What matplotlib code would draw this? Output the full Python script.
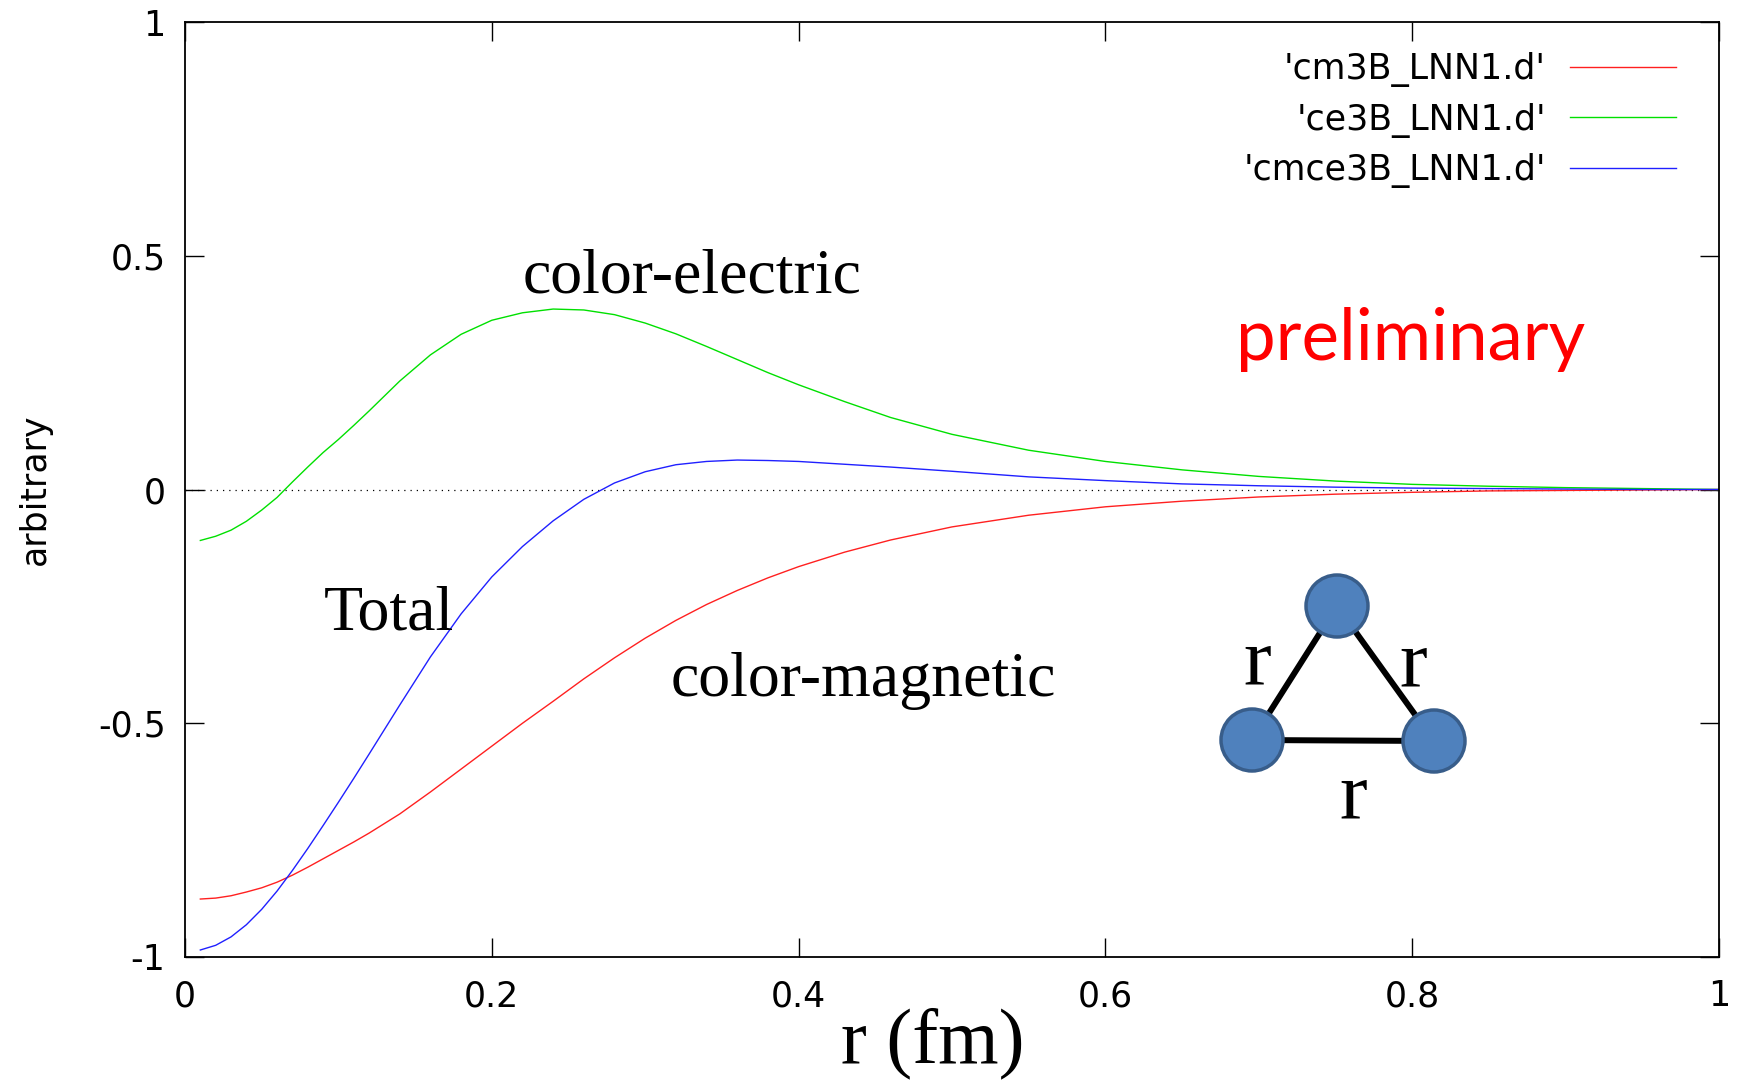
import matplotlib
matplotlib.use("Agg")
import matplotlib.pyplot as plt
from matplotlib.patches import Circle

# r (fm)
r_fm = [0.01, 0.02, 0.03, 0.04, 0.05, 0.06, 0.07, 0.08, 0.09, 0.10, 0.11, 0.12,
        0.14, 0.16, 0.18, 0.20, 0.22, 0.24, 0.26, 0.28, 0.30, 0.32, 0.34, 0.36,
        0.38, 0.40, 0.43, 0.46, 0.50, 0.55, 0.60, 0.65, 0.70, 0.75, 0.80, 0.85,
        0.90, 0.95, 1.00]

# color-magnetic
cm3B = [-0.876, -0.874, -0.869, -0.861, -0.852, -0.840, -0.825, -0.808, -0.790,
        -0.772, -0.754, -0.735, -0.694, -0.647, -0.598, -0.549, -0.500, -0.453,
        -0.405, -0.360, -0.318, -0.280, -0.246, -0.216, -0.189, -0.165, -0.134,
        -0.108, -0.080, -0.055, -0.037, -0.025, -0.016, -0.010, -0.006, -0.003,
        -0.002, -0.001, 0.0]

# color-electric
ce3B = [-0.109, -0.100, -0.087, -0.068, -0.044, -0.017, 0.016, 0.048, 0.079,
        0.107, 0.137, 0.168, 0.232, 0.288, 0.332, 0.362, 0.378, 0.386, 0.384,
        0.374, 0.356, 0.333, 0.306, 0.278, 0.250, 0.224, 0.188, 0.154, 0.118,
        0.084, 0.060, 0.042, 0.028, 0.018, 0.011, 0.007, 0.004, 0.002, 0.0]

# total
cmce3B = [-0.985, -0.975, -0.957, -0.931, -0.898, -0.859, -0.815, -0.768, -0.719,
          -0.669, -0.618, -0.566, -0.461, -0.358, -0.266, -0.187, -0.122, -0.067,
          -0.021, 0.014, 0.038, 0.053, 0.060, 0.063, 0.062, 0.060, 0.054, 0.048,
          0.039, 0.027, 0.019, 0.012, 0.008, 0.005, 0.003, 0.002, 0.001, 0.0, 0.0]

labels = ["'cm3B_LNN1.d'", "'ce3B_LNN1.d'", "'cmce3B_LNN1.d'"]
xticks = [0, 0.2, 0.4, 0.6, 0.8, 1]
xticklabels = ["0", "0.2", "0.4", "0.6", "0.8", "1"]
yticks = [-1, -0.5, 0, 0.5, 1]
yticklabels = ["-1", "-0.5", "0", "0.5", "1"]

W, H = 1748, 1080
fig = plt.figure(figsize=(W / 100, H / 100), dpi=100)
ax = fig.add_axes([185 / W, 1 - 957 / H, 1534 / W, 935 / H])

ax.axhline(0, color="black", lw=0.9, ls=(0, (1, 4)))
ax.plot(r_fm, cm3B, color="#ff2020", lw=1.0, label=labels[0])
ax.plot(r_fm, ce3B, color="#00e000", lw=1.0, label=labels[1])
ax.plot(r_fm, cmce3B, color="#2020ff", lw=1.0, label=labels[2])

ax.set_xlim(0, 1)
ax.set_ylim(-1, 1)
ax.set_xticks(xticks)
ax.set_xticklabels(xticklabels)
ax.set_yticks(yticks)
ax.set_yticklabels(yticklabels)
ax.tick_params(direction="in", length=14, width=1.0, top=True, right=True,
               labelsize=25, pad=14)
ax.tick_params(axis="x", pad=16)
for s in ax.spines.values():
    s.set_linewidth(1.3)

ax.set_ylabel("arbitrary", fontsize=25)
ax.yaxis.label.set_va("center")
ax.yaxis.set_label_coords(-0.0978, 0.5)

ax.set_xlabel("r (fm)", fontsize=56, family="Liberation Serif")
ax.xaxis.label.set_va("baseline")
ax.xaxis.set_label_coords(0.4876, -0.1123)

leg = ax.legend(loc="upper right", bbox_to_anchor=(0.972, 0.968), frameon=False,
                markerfirst=False, handlelength=3.05, handletextpad=0.7,
                labelspacing=0.45, borderpad=0, borderaxespad=0, fontsize=25)

serif = dict(family="Liberation Serif", fontsize=46, ha="center", va="baseline")
ax.text(0.3305, 0.421, "color-electric", **serif)
ax.text(0.1327, -0.300, "Total", **serif)
ax.text(0.442, -0.441, "color-magnetic", **serif)
ax.text(0.799, 0.276, "preliminary", family="Lato", fontsize=51, color="red",
        ha="center", va="baseline")

# three-body sketch, in figure pixels
ov = fig.add_axes([0, 0, 1, 1])
ov.set_xlim(0, W)
ov.set_ylim(H, 0)
ov.axis("off")
nodes_x = [1337, 1252, 1434]
nodes_y = [606, 740, 741]
ov.plot(nodes_x + [nodes_x[0]], nodes_y + [nodes_y[0]], color="black", lw=4.3,
        zorder=1)
for cx, cy in zip(nodes_x, nodes_y):
    ov.add_patch(Circle((cx, cy), 31, facecolor="#4f81bd", edgecolor="#385d8a",
                        lw=2.5, zorder=2))
r_x = [1257, 1413, 1353]
r_y = [685, 687, 818]
for tx, ty in zip(r_x, r_y):
    ov.text(tx, ty, "r", family="Liberation Serif", fontsize=60, ha="center",
            va="baseline")

fig.savefig("out.png", dpi=100)
